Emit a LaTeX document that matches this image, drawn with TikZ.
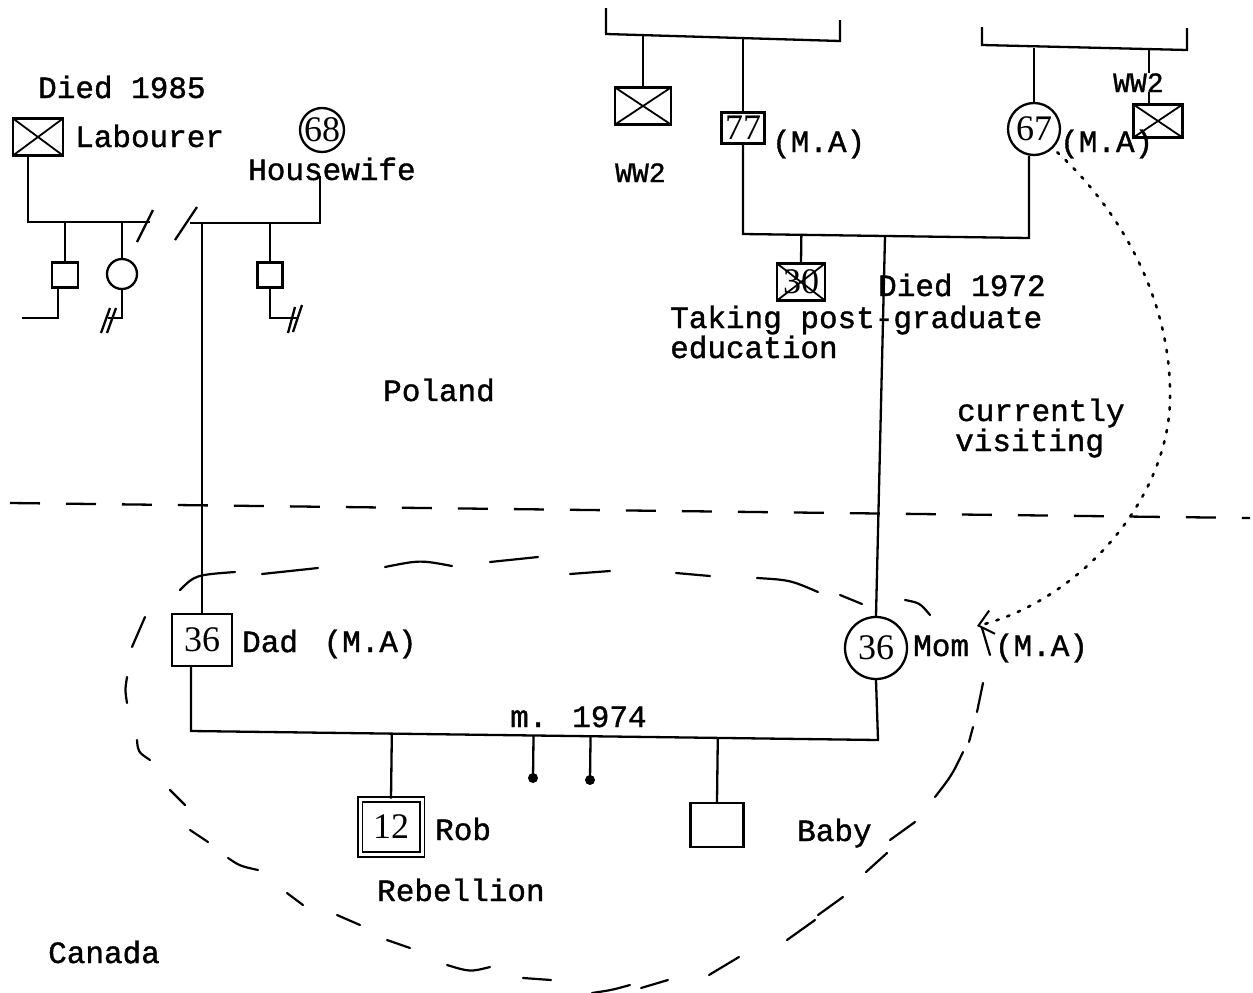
\documentclass[tikz,border=0pt]{standalone}
\usepackage{fontspec}
\newfontfamily\tw[FakeBold=1.2]{Liberation Mono}
\newfontfamily\numf{Liberation Serif}
\usetikzlibrary{arrows.meta,calc}
\begin{document}
\begin{tikzpicture}[x=1pt,y=-1pt,
  ln/.style={line width=2.3pt},
  lbl/.style={font={\tw\fontsize{31}{36}\selectfont}, inner sep=0pt, anchor=base west},
  smalllbl/.style={lbl, font={\tw\fontsize{28}{32}\selectfont}},
  male/.style={draw, rectangle, line width=2.3pt, inner sep=0pt, font={\numf\fontsize{36}{38}\selectfont}},
  fem/.style={draw, circle, line width=2.3pt, inner sep=0pt, font={\numf\fontsize{36}{38}\selectfont}},
  dead/.style={male, path picture={\draw[line width=1.8pt]
     (path picture bounding box.south west) -- (path picture bounding box.north east)
     (path picture bounding box.north west) -- (path picture bounding box.south east);}},
  loopd/.style={line width=2.2pt, line cap=round},
  border/.style={line width=2.3pt, dash pattern=on 30pt off 26pt},
  visit/.style={line width=2.6pt, line cap=round, dash pattern=on 2.5pt off 9pt}
]
\useasboundingbox (0,0) rectangle (1253,993);
\fill[white] (0,0) rectangle (1253,993);

% ---------- left grandparents (Poland) ----------
\node[lbl] (d85) at (38,98) {Died 1985};
\node[dead, minimum width=50pt, minimum height=37pt] (lab) at (38,137) {};
\node[lbl] (labt) at (75,147) {Labourer};
\node[fem, minimum size=44pt] (g68) at (322,130) {68};
\node[lbl] (hw) at (248,180) {Housewife};

\coordinate (m1a) at (28,222);
\coordinate (m1b) at (150,222);
\coordinate (m1c) at (190,223);
\coordinate (m1d) at (320,223);
\draw[ln] (lab.south -| m1a) -- (m1a) -- (m1b);
\draw[ln] ([shift={(-13,20)}]m1b) -- ++(16,-32);
\draw[ln] ([shift={(-15,17)}]m1c) -- ++(22,-33);
\draw[ln] (m1c) -- (m1d) -- ([yshift=5pt]hw.south -| m1d);

\node[male, minimum width=26pt, minimum height=25pt] (lc1) at (65,275) {};
\node[fem, minimum size=30pt] (lc2) at (122,274) {};
\node[male, minimum width=25pt, minimum height=25pt] (rc1) at (270,275) {};
\draw[ln] (lc1.north |- m1a) -- (lc1.north);
\draw[ln] (lc2.north |- m1a) -- (lc2.north);
\draw[ln] (rc1.north |- m1d) -- (rc1.north);

\coordinate (e1) at (22,318);
\coordinate (e2) at (108,318);
\coordinate (e3) at (298,318);
\draw[ln] ([xshift=-7pt]lc1.south) |- (e1);
\draw[ln] (lc2.south) |- (e2);
\draw[ln] ([shift={(-7,15)}]e2) -- ++(9,-25);
\draw[ln] ([shift={(-1,15)}]e2) -- ++(9,-25);
\draw[ln] (rc1.south) |- (e3);
\draw[ln] ([shift={(-10,15)}]e3) -- ++(7,-26);
\draw[ln] ([shift={(-5,14)}]e3) -- ++(9,-27);

% ---------- right grandparents ----------
\coordinate (b1a) at (606,8);
\coordinate (b1b) at (606,34);
\coordinate (b1c) at (840,41);
\coordinate (b1d) at (840,20);
\draw[ln] (b1a) -- (b1b) -- (b1c) -- (b1d);
\node[dead, minimum width=56pt, minimum height=37pt] (wwl) at (643,106) {};
\node[smalllbl] (ww2a) at (615,182) {WW2};
\node[male, minimum width=43pt, minimum height=31pt] (g77) at (743,128) {77};
\node[lbl] (ma77) at (772,152) {(M.A)};
\draw[ln] (wwl.north) -- (wwl.north |- b1b);
\draw[ln] (g77.north) -- (g77.north |- 0,38);

\coordinate (b2a) at (982,27);
\coordinate (b2b) at (982,45);
\coordinate (b2c) at (1187,50);
\coordinate (b2d) at (1187,28);
\draw[ln] (b2a) -- (b2b) -- (b2c) -- (b2d);
\node[fem, minimum size=52pt] (g67) at (1034,129) {67};
\node[lbl] (ma67) at (1060,152) {(M.A)};
\draw[ln] (g67.north) -- (g67.north |- 0,48);
\node[dead, minimum width=49pt, minimum height=33pt] (wwr) at (1158,121) {};
\draw[ln] ([xshift=-9pt]wwr.north) -- ([xshift=-9pt]wwr.north |- 0,50);
\node[smalllbl, fill=white] (ww2b) at (1113,92) {WW2};

\coordinate (m2a) at (743,234);
\coordinate (m2b) at (1029,238);
\coordinate (m2c) at (885,236);
\draw[ln] (g77.south) -- (m2a) -- (m2b) -- (m2b |- g67.south);
\node[dead, minimum width=48pt, minimum height=37pt] (s30) at (801,282) {30};
\draw[ln] (s30.north) -- ($(m2a)!(s30.north)!(m2b)$);

\node[lbl] (d72) at (878,296) {Died 1972};
\node[lbl] (tk) at (670,328) {Taking post-graduate};
\node[lbl] (edu) at (670,358) {education};
\node[lbl] (pol) at (383,401) {Poland};
\node[lbl] (cur) at (957,421) {currently};
\node[lbl] (vis) at (955,451) {visiting};

% ---------- border Poland / Canada ----------
\coordinate (bdL) at (10,503);
\coordinate (bdR) at (1250,518);
\draw[border] (bdL) -- (bdR);

% ---------- parents (Canada) ----------
\node[male, minimum width=60pt, minimum height=52pt] (dad) at (202,640) {36};
\node[lbl] (dadt) at (242,652) {Dad\hspace{7pt} (M.A)};
\draw[ln] (dad.north |- m1c) -- (dad.north);

\node[fem, minimum size=62pt] (mom) at (876,648) {36};
\node[lbl] (momt) at (913,656) {Mom\hspace{26pt}(M.A)};
\draw[ln] (m2c) -- (mom.north);

\coordinate (m3a) at (191,731);
\coordinate (m3b) at (878,740);
\draw[ln] ([xshift=-11pt]dad.south) -- (m3a) -- (m3b) -- (mom.south);
\node[lbl] (m74) at (510,727) {m. 1974};

\node[male, double, double distance=3pt, line width=1.6pt, minimum width=62pt, minimum height=55pt] (rob) at (391,827) {12};
\node[lbl] (robt) at (435,840) {Rob};
\node[male, minimum width=53pt, minimum height=44pt] (baby) at (717,825) {};
\node[lbl] (babyt) at (797,841) {Baby};
\draw[ln] (rob.north) -- ($(m3a)!(rob.north)!(m3b)$);
\draw[ln] (baby.north) -- ($(m3a)!(baby.north)!(m3b)$);

\coordinate (k1) at (533,778);
\coordinate (k2) at (590,780);
\draw[ln] ($(m3a)!(k1)!(m3b)$) -- (k1);
\draw[ln] ($(m3a)!(k2)!(m3b)$) -- (k2);
\fill (k1) circle (5pt);
\fill (k2) circle (5pt);

\node[lbl] (reb) at (377,901) {Rebellion};
\node[lbl] (can) at (48,963) {Canada};

% ---------- visiting arrow ----------
\coordinate (vtip) at (977,626);
\draw[visit, -{Straight Barb[length=14pt,width=24pt,line width=2pt]}]
  ([shift={(4,4)}]g67.south east) .. controls (1120,210) and (1172,300) .. (1170,400)
  .. controls (1168,500) and (1080,600) .. (vtip);

% ---------- household loop (hand-drawn dashes) ----------
\draw[loopd] (180,590) .. controls (195,575) .. (235,572);
\draw[loopd] (262,574) -- (318,568);
\draw[loopd] (385,567) .. controls (420,560) .. (452,566);
\draw[loopd] (490,562) -- (538,557);
\draw[loopd] (570,574) -- (610,571);
\draw[loopd] (676,573) -- (710,576);
\draw[loopd] (757,578) .. controls (790,580) .. (818,592);
\draw[loopd] (840,595) -- (862,604);
\draw[loopd] (905,600) .. controls (920,603) .. (930,615);
\draw[loopd] (982,628) -- (990,655);
\draw[loopd] (983,683) -- (977,712);
\draw[loopd] (973,727) -- (969,742);
\draw[loopd] (963,752) .. controls (952,775) .. (935,797);
\draw[loopd] (915,822) -- (890,840);
\draw[loopd] (887,853) -- (866,872);
\draw[loopd] (843,897) -- (818,915);
\draw[loopd] (815,920) -- (787,940);
\draw[loopd] (739,957) -- (709,975);
\draw[loopd] (668,980) -- (641,988);
\draw[loopd] (630,985) .. controls (612,990) .. (592,993);
\draw[loopd] (551,980) -- (523,978);
\draw[loopd] (490,967) .. controls (470,972) .. (447,965);
\draw[loopd] (410,948) -- (387,940);
\draw[loopd] (360,925) -- (337,915);
\draw[loopd] (303,905) -- (287,893);
\draw[loopd] (258,870) .. controls (240,866) .. (228,858);
\draw[loopd] (208,842) -- (190,830);
\draw[loopd] (185,805) -- (170,790);
\draw[loopd] (150,760) .. controls (138,752) .. (137,740);
\draw[loopd] (127,703) .. controls (125,690) .. (127,677);
\draw[loopd] (132,647) -- (145,617);
\end{tikzpicture}
\end{document}
